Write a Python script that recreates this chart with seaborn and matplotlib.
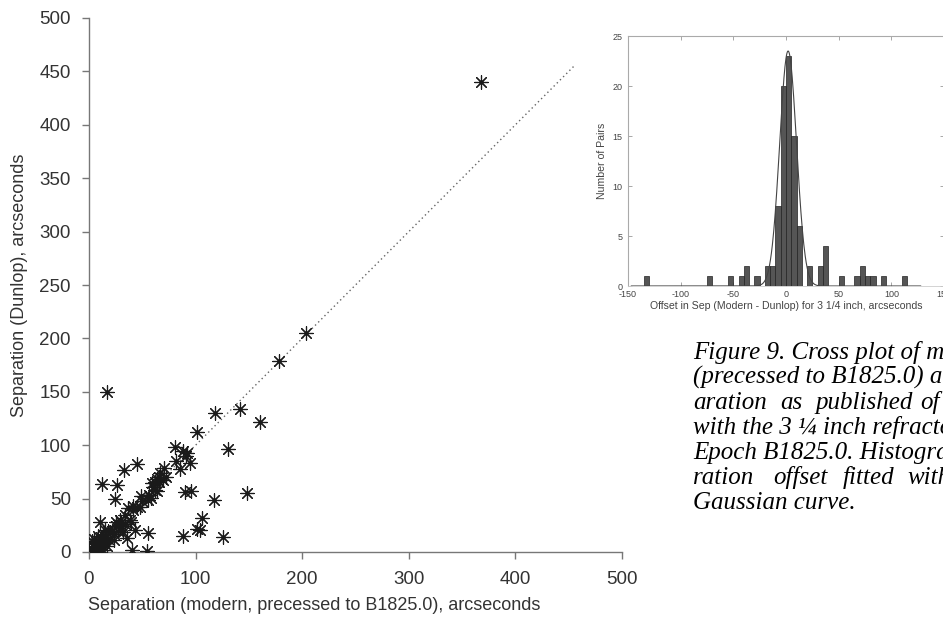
import numpy as np
import pandas as pd
import matplotlib
matplotlib.use("Agg")
import matplotlib.pyplot as plt
import seaborn as sns

# ---- data ----
modern_sep = [
    # outliers / off-diagonal pairs
    17, 368, 12, 33, 26, 45, 24, 10, 81, 101, 118, 43, 36, 90, 130, 96, 160, 55, 40, 54,
    117, 106, 88, 101, 104, 148, 126,
    # offset -10..-5
    70, 67, 59, 5, 8, 3, 15, 88,
    # offset -5..0
    204, 178, 82, 49, 41, 37, 34, 29, 25, 62, 64, 66, 60, 11, 7, 4, 13, 18, 2, 92,
    # offset 0..5
    91, 62, 56, 50, 69, 66, 41, 30, 25, 20, 22, 15, 10, 12, 8, 6, 4, 3, 9, 16, 28, 45, 72,
    # offset 5..10
    142, 85, 55, 34, 38, 27, 23, 18, 14, 10, 7, 58, 64, 31, 48,
    # offset 10..15
    95, 39, 23, 13, 17, 32,
]
dunlop_sep = [
    150, 440, 64, 77, 63, 82, 50, 28, 98, 112, 130, 21, 13, 56, 96, 57, 122, 18, 2, 1,
    49, 32, 15, 22, 21, 55, 14,
    79, 74, 65, 12, 15, 10, 21, 95,
    205, 179, 85, 52, 43, 41, 35, 30, 28, 66, 68, 70, 61, 14, 9, 6, 16, 20, 4, 93,
    90, 58, 53, 48, 67, 66, 39, 28, 24, 19, 20, 13, 9, 10, 5, 4, 2, 1, 6, 14, 25, 42, 70,
    134, 78, 49, 26, 30, 20, 17, 12, 8, 3, 1, 51, 57, 24, 42,
    83, 28, 11, 2, 6, 19,
]
diag_line = [0, 455]          # one-to-one reference line end points (arcsec)

# Gaussian fit to the core of the offset histogram
FIT_PEAK = 23.5
FIT_MEAN = 2.0
FIT_SIGMA = 8.0
FIT_RANGE = [-147, 128]

main_xticks = [0, 100, 200, 300, 400, 500]
main_yticks = [0, 50, 100, 150, 200, 250, 300, 350, 400, 450, 500]
inset_xticks = [-150, -100, -50, 0, 50, 100, 150]
inset_yticks = [0, 5, 10, 15, 20, 25]

caption_lines = [
    "Figure 9. Cross plot of modern",
    "(precessed to B1825.0) and sep-",
    None,
    "with the 3 \u00bc inch refractor",
    "Epoch B1825.0. Histogram",
    None,
    "Gaussian curve.",
]
caption_words_line3 = ["aration", "as", "published", "of"]
caption_words_line6 = ["ration", "offset", "fitted", "with"]

# ---- figure ----
sns.set_theme(style="ticks")
plt.rcParams["font.family"] = ["Liberation Sans", "DejaVu Sans"]
plt.rcParams["axes.unicode_minus"] = False

W, H = 943, 627
fig = plt.figure(figsize=(W / 100, H / 100), dpi=100)

df = pd.DataFrame({"modern": modern_sep, "dunlop": dunlop_sep})
df["offset"] = df["modern"] - df["dunlop"]

# main scatter
ax = fig.add_axes([89 / W, 1 - 552 / H, (622 - 89) / W, (552 - 18) / H])
sns.lineplot(x=diag_line, y=diag_line, ax=ax, color="#666666", linestyle=(0, (1, 2.2)),
             linewidth=1.0)
sns.scatterplot(data=df, x="modern", y="dunlop", ax=ax, marker=(8, 2, 0), s=95,
                color="#1a1a1a", edgecolor="#1a1a1a", linewidth=0.85, zorder=3)
ax.set_xlim(0, 500)
ax.set_ylim(0, 500)
ax.set_xticks(main_xticks)
ax.set_yticks(main_yticks)
ax.set_xlabel("Separation (modern, precessed to B1825.0), arcseconds", fontsize=13,
              color="#333333")
ax.set_ylabel("Separation (Dunlop), arcseconds", fontsize=13, color="#333333")
ax.xaxis.set_label_coords((314 - 89) / (622 - 89), -(605 - 552) / (552 - 18))
ax.yaxis.set_label_coords(-(89 - 20) / (622 - 89), 0.5)
ax.xaxis.label.set_va("center")
ax.yaxis.label.set_va("center")
ax.tick_params(axis="both", labelsize=13.5, colors="#777777", labelcolor="#333333",
               direction="out", length=5, width=1)
ax.tick_params(axis="y", pad=8)
ax.tick_params(axis="x", pad=9)
sns.despine(ax=ax)
for s in ("left", "bottom"):
    ax.spines[s].set_color("#777777")
    ax.spines[s].set_linewidth(1.0)

# inset histogram
axi = fig.add_axes([628 / W, 1 - 286 / H, 316 / W, 250 / H])
sns.histplot(data=df, x="offset", binwidth=5, binrange=(-150, 150), ax=axi,
             color="#555555", edgecolor="#222222", linewidth=0.5, alpha=1.0)
gx = np.linspace(FIT_RANGE[0], FIT_RANGE[1], 600)
gy = FIT_PEAK * np.exp(-0.5 * ((gx - FIT_MEAN) / FIT_SIGMA) ** 2)
sns.lineplot(x=gx, y=gy, ax=axi, color="#444444", linewidth=0.8)
axi.set_xlim(-150, 150)
axi.set_ylim(0, 25)
axi.set_xticks(inset_xticks)
axi.set_yticks(inset_yticks)
axi.set_xlabel("Offset in Sep (Modern - Dunlop) for 3 1/4 inch, arcseconds", fontsize=7.6,
               color="#444444", labelpad=1)
axi.set_ylabel("Number of Pairs", fontsize=7.6, color="#444444", labelpad=4)
axi.tick_params(axis="both", labelsize=6.5, colors="#999999", labelcolor="#444444",
                direction="in", length=3, width=0.6, top=True, right=True)
axi.tick_params(axis="x", pad=3)
axi.tick_params(axis="y", pad=4)
for s in ("left", "top", "right"):
    axi.spines[s].set_color("#aaaaaa")
    axi.spines[s].set_linewidth(0.8)
axi.spines["bottom"].set_color("#cccccc")
axi.spines["bottom"].set_linewidth(0.6)

# caption
cap_kw = dict(fontsize=18, family=["Liberation Serif", "DejaVu Serif"], style="italic",
              color="black", va="baseline", ha="left")
x0 = 693 / W
y_first = 359
dy = 25
for i, line in enumerate(caption_lines):
    if line is not None:
        fig.text(x0, 1 - (y_first + i * dy) / H, line, **cap_kw)
for words, xs, i in ((caption_words_line3, [693, 780, 815, 920], 2),
                     (caption_words_line6, [693, 773, 843, 907], 5)):
    for w_, xp in zip(words, xs):
        fig.text(xp / W, 1 - (y_first + i * dy) / H, w_, **cap_kw)

fig.savefig("out.png", dpi=100)
